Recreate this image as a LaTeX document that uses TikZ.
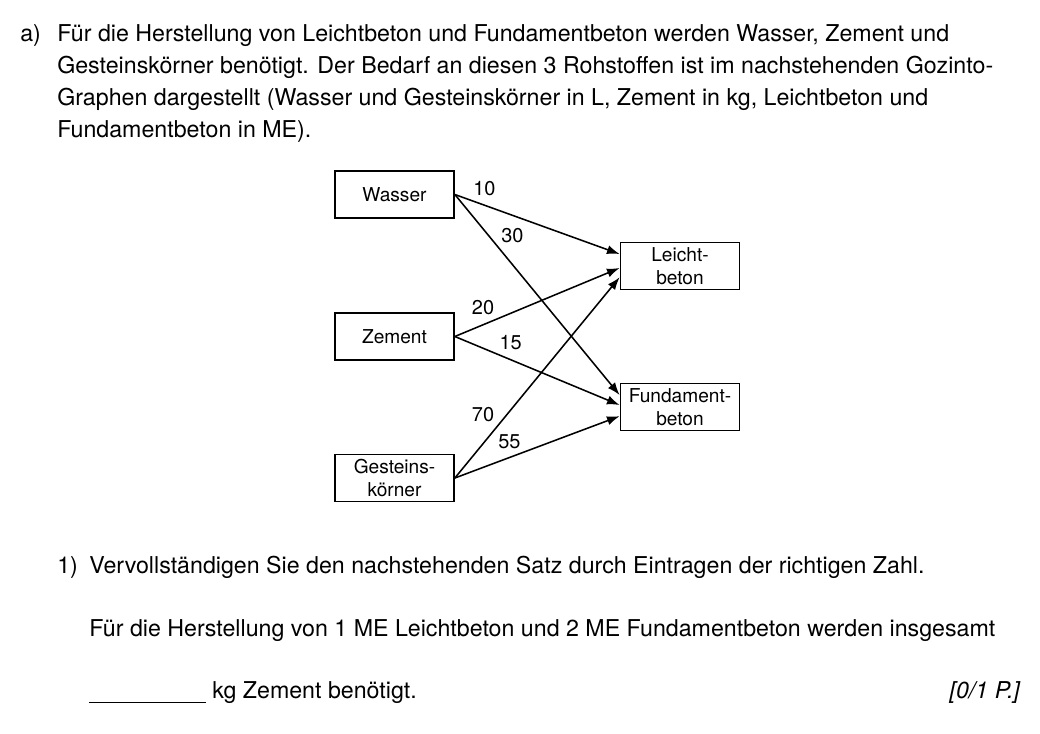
\documentclass[tikz,border=0pt]{standalone}
\usepackage{fontspec}
\setmainfont{TeX Gyre Heros}
\usetikzlibrary{arrows.meta}
\usetikzlibrary{positioning}
\tikzset{
  kasten/.style={draw, line width=1.2pt, align=center, minimum width=2.975cm, minimum height=1.175cm, inner sep=2pt, font=\fontsize{13.6}{16.5}\selectfont},
  pfeil/.style={-{Latex[length=9pt,width=6.5pt]}, line width=1.1pt},
  zahl/.style={inner sep=2pt, font=\fontsize{14.2}{16}\selectfont},
  zeile/.style={anchor=base west, inner sep=0pt, font=\fontsize{16.5}{22.7}\selectfont},
}

\begin{document}
\begin{tikzpicture}[x=0.025cm, y=-0.025cm]
  \useasboundingbox (0,0) rectangle (1040,733);

  % Aufgabentext
  \node[zeile] (a) at (20,41) {a)};
  \node[zeile] (z1) at (57,41) {Für die Herstellung von Leichtbeton und Fundamentbeton werden Wasser, Zement und};
  \node[zeile] (z2) at (57,73) {Gesteinskörner benötigt. Der Bedarf an diesen 3 Rohstoffen ist im nachstehenden Gozinto-};
  \node[zeile] (z3) at (57,105) {Graphen dargestellt (Wasser und Gesteinskörner in L, Zement in kg, Leichtbeton und};
  \node[zeile] (z4) at (57,137) {Fundamentbeton in ME).};

  % Gozinto-Graph
  \node[kasten] (wasser) at (394.5,194.5) {Wasser};
  \node[kasten] (zement) at (394.5,336.5) {Zement};
  \node[kasten] (gestein) at (394.5,478) {Gesteins-\\körner};
  \node[kasten] (leicht) at (680,266) {Leicht-\\beton};
  \node[kasten] (fundament) at (680,407) {Fundament-\\beton};

  \draw[pfeil] (wasser.east) -- node[zahl, pos=0.09, above right]{10} ([yshift=8.5pt]leicht.west);
  \draw[pfeil] (wasser.east) -- node[zahl, pos=0.26, above right]{30} ([yshift=8.5pt]fundament.west);
  \draw[pfeil] (zement.east) -- node[zahl, pos=0.26, above left]{20} ([yshift=-1.4pt]leicht.west);
  \draw[pfeil] (zement.east) -- node[zahl, pos=0.25, above right]{15} ([yshift=1.4pt]fundament.west);
  \draw[pfeil] (gestein.east) -- node[zahl, pos=0.26, above left]{70} ([yshift=-8pt]leicht.west);
  \draw[pfeil] (gestein.east) -- node[zahl, pos=0.42, above left]{55} ([yshift=-6.5pt]fundament.west);

  % Teilaufgabe 1
  \node[zeile] (n1) at (57,573) {1)};
  \node[zeile] (s1) at (89,573) {Vervollständigen Sie den nachstehenden Satz durch Eintragen der richtigen Zahl.};
  \node[zeile] (s2) at (89,636) {Für die Herstellung von 1 ME Leichtbeton und 2 ME Fundamentbeton werden insgesamt};
  \node[zeile] (s3) at (89,698) {\rule[-3.5pt]{83pt}{0.6pt}\hspace{4.5pt}kg Zement benötigt.};
  \node[zeile, anchor=base east] (punkte) at (1021,698) {\textit{[0/1 P.]}};
\end{tikzpicture}
\end{document}
